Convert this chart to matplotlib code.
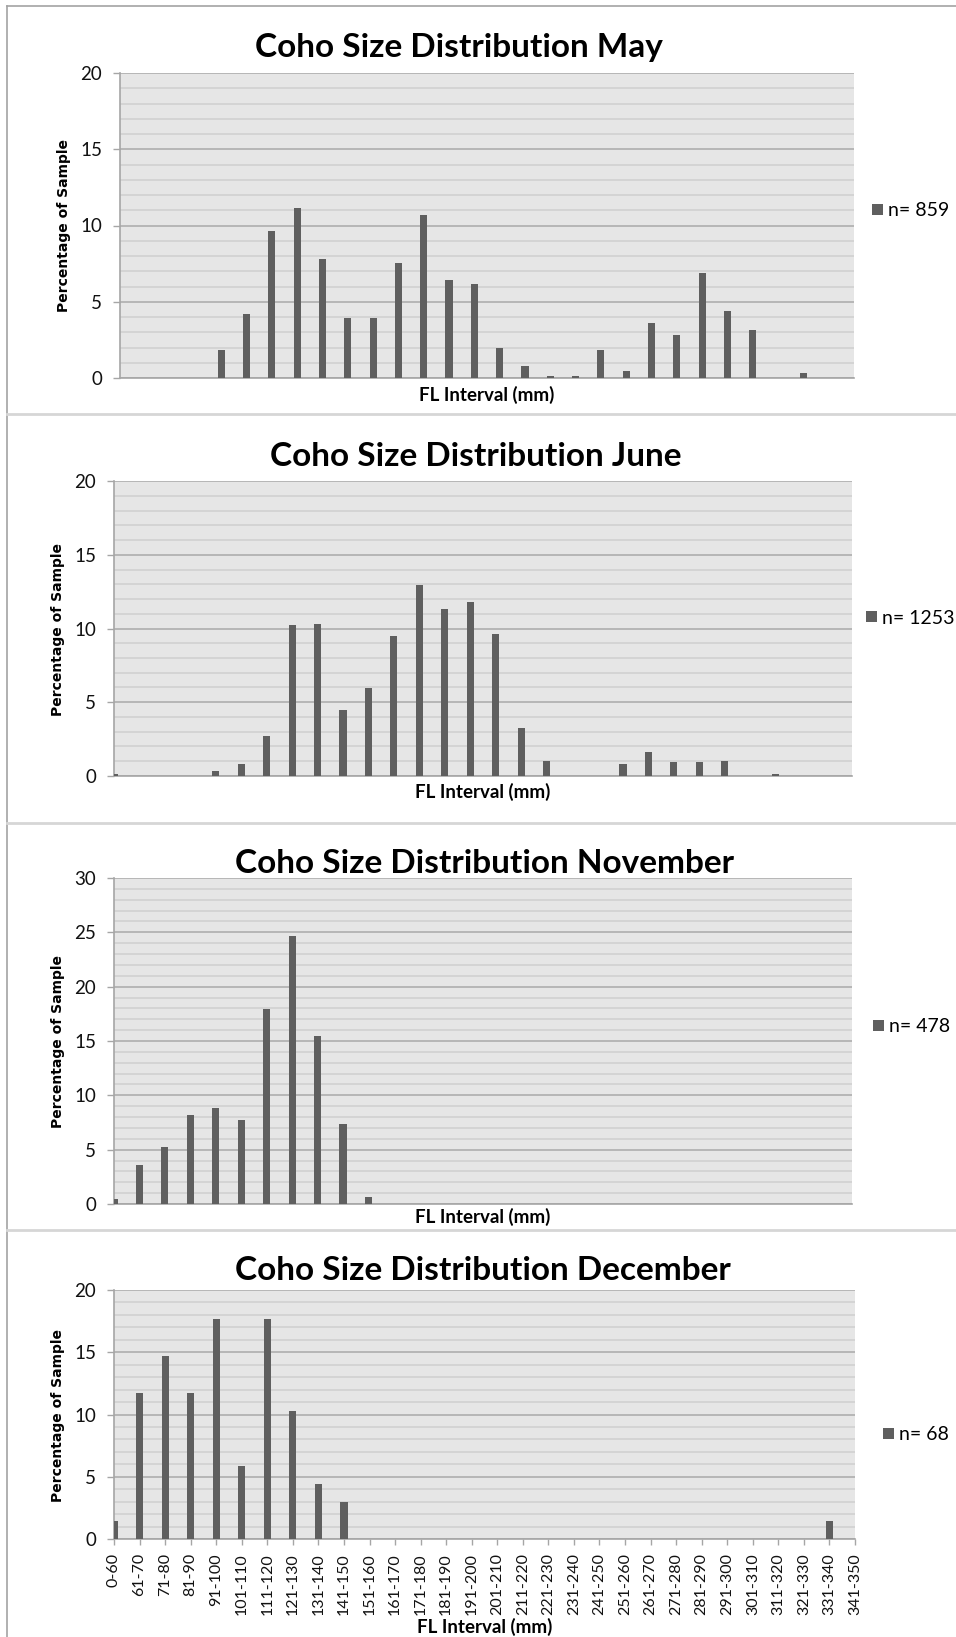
import matplotlib
matplotlib.use("Agg")
import matplotlib.pyplot as plt
from matplotlib.lines import Line2D
from matplotlib.ticker import MultipleLocator

# ---------------------------------------------------------------- data
intervals = [
    "0-60", "61-70", "71-80", "81-90", "91-100", "101-110", "111-120",
    "121-130", "131-140", "141-150", "151-160", "161-170", "171-180",
    "181-190", "191-200", "201-210", "211-220", "221-230", "231-240",
    "241-250", "251-260", "261-270", "271-280", "281-290", "291-300",
    "301-310", "311-320", "321-330", "331-340", "341-350",
]

# percentage of sample in each fork-length interval
may_pct = [0, 0, 0, 0, 1.86, 4.19, 9.66, 11.18, 7.80, 3.96, 3.96, 7.57,
           10.71, 6.40, 6.17, 1.98, 0.81, 0.12, 0.12, 1.86, 0.47, 3.61,
           2.79, 6.87, 4.42, 3.14, 0, 0.35, 0, 0]
june_pct = [0.16, 0, 0, 0, 0.32, 0.80, 2.71, 10.22, 10.30, 4.47, 5.99, 9.50,
            12.93, 11.33, 11.81, 9.66, 3.27, 1.04, 0, 0, 0.80, 1.60, 0.96,
            0.96, 1.04, 0, 0.16, 0, 0, 0]
november_pct = [0.42, 3.56, 5.23, 8.16, 8.79, 7.74, 17.99, 24.69, 15.48,
                7.32, 0.63, 0, 0, 0, 0, 0, 0, 0, 0, 0, 0, 0, 0, 0, 0, 0, 0,
                0, 0, 0]
december_pct = [1.47, 11.76, 14.71, 11.76, 17.65, 5.88, 17.65, 10.29, 4.41,
                2.94, 0, 0, 0, 0, 0, 0, 0, 0, 0, 0, 0, 0, 0, 0, 0, 0, 0, 0,
                1.47, 0]

months = ["May", "June", "November", "December"]
sample_sizes = [859, 1253, 478, 68]
series = [may_pct, june_pct, november_pct, december_pct]
y_max = [20, 20, 30, 20]

# ---------------------------------------------------------------- layout (pixels)
W, H = 956, 1637
fig = plt.figure(figsize=(W / 100, H / 100), dpi=100)
fig.patch.set_facecolor("white")


def fx(x):
    return x / W


def fy(y):
    return 1 - y / H


layout = [
    # plot box (x0, y0, x1, y1), title centre, xlabel centre, ylabel centre, legend anchor
    dict(box=(120, 73, 854, 378), title=(459, 47), xlab=(487, 395),
         ylab=(64, 226), leg=(872, 211)),
    dict(box=(114, 481, 852, 776), title=(476, 456), xlab=(483, 792),
         ylab=(58, 629), leg=(866, 618)),
    dict(box=(114, 878, 852, 1204), title=(484, 863), xlab=(483, 1217),
         ylab=(58, 1041), leg=(873, 1027)),
    dict(box=(114, 1290, 855, 1539), title=(483, 1271), xlab=(485, 1627),
         ylab=(58, 1415), leg=(883, 1435)),
]

BAR = "#5f5f5f"
FACE = "#e6e6e6"
MAJOR = "#b2b2b2"
MINOR = "#d3d3d3"
AXIS = "#a6a6a6"

# chart frames
frame_dark = "#a3a3a3"
frame_light = "#d6d6d6"
fig.add_artist(Line2D([fx(7), 1], [fy(6), fy(6)], color=frame_dark, lw=1.2,
                      transform=fig.transFigure))
fig.add_artist(Line2D([fx(7), fx(7)], [fy(6), 0], color=frame_dark, lw=1.2,
                      transform=fig.transFigure))
for ysep in (414, 823, 1230):
    fig.add_artist(Line2D([fx(7), 1], [fy(ysep), fy(ysep)], color=frame_light,
                          lw=2.0, transform=fig.transFigure))

positions = list(range(len(intervals)))

for i, (month, n, vals, ymax, lay) in enumerate(
        zip(months, sample_sizes, series, y_max, layout)):
    x0, y0, x1, y1 = lay["box"]
    ax = fig.add_axes([fx(x0), fy(y1), (x1 - x0) / W, (y1 - y0) / H])
    ax.set_facecolor(FACE)
    ax.bar(positions, vals, width=0.28, color=BAR, zorder=3, label=f"n= {n}")
    ax.set_xlim(0, len(intervals) - 1)
    ax.set_ylim(0, ymax)

    ax.yaxis.set_major_locator(MultipleLocator(5))
    ax.yaxis.set_minor_locator(MultipleLocator(1))
    ax.grid(which="minor", axis="y", color=MINOR, lw=1.3, zorder=0)
    ax.grid(which="major", axis="y", color=MAJOR, lw=1.3, zorder=1)
    ax.grid(which="major", axis="x", visible=False)
    ax.set_axisbelow(True)

    for side in ("top", "right"):
        ax.spines[side].set_visible(False)
    for side in ("left", "bottom"):
        ax.spines[side].set_color(AXIS)
        ax.spines[side].set_linewidth(1.2)

    ax.tick_params(axis="y", which="major", length=5, width=1, color=AXIS,
                   pad=8, labelsize=13.5, labelfontfamily="Lato",
                   labelcolor="#111111")
    ax.tick_params(axis="y", which="minor", length=0)

    ax.set_xticks(positions)
    if i == len(months) - 1:
        ax.set_xticklabels(intervals, rotation=90)
        ax.tick_params(axis="x", length=4, width=1, color=AXIS, pad=6,
                       labelsize=11.5, labelfontfamily="Lato",
                       labelcolor="#111111")
    else:
        ax.tick_params(axis="x", length=0, labelbottom=False)

    fig.text(fx(lay["title"][0]), fy(lay["title"][1]),
             f"Coho Size Distribution {month}", ha="center", va="center",
             fontfamily="Lato", fontweight="bold", fontsize=24)
    fig.text(fx(lay["xlab"][0]), fy(lay["xlab"][1]), "FL Interval (mm)",
             ha="center", va="center", fontfamily="Lato", fontweight="bold",
             fontsize=13.5)
    fig.text(fx(lay["ylab"][0]), fy(lay["ylab"][1]), "Percentage of Sample",
             ha="center", va="center", rotation=90, fontfamily="DejaVu Sans",
             fontweight="bold", fontsize=10)

    ax.legend(loc="center left",
              bbox_to_anchor=(fx(lay["leg"][0]), fy(lay["leg"][1])),
              bbox_transform=fig.transFigure, frameon=False,
              prop=dict(family="Lato", size=14), handlelength=0.55,
              handleheight=0.55, handletextpad=0.25, borderpad=0,
              borderaxespad=0)

fig.savefig("out.png", dpi=100, facecolor="white")
